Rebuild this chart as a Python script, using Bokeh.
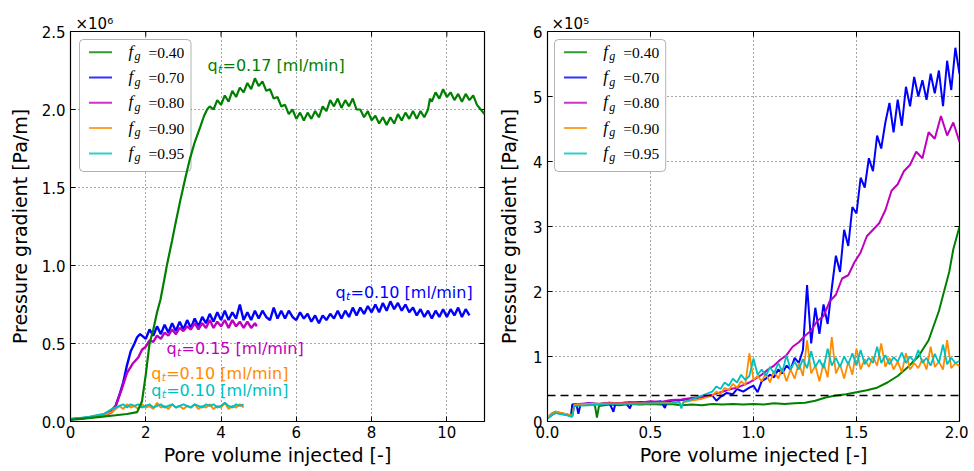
from bokeh.plotting import figure
from bokeh.models import Range1d, FixedTicker, PrintfTickFormatter, BoxAnnotation, Span
from bokeh.layouts import row
from bokeh.embed import file_html
from bokeh.resources import INLINE
from bokeh.core.properties import value

# ---------------- data (left panel, pressure gradient in 1e6 Pa/m) ----------------
left_green_x = [0.0, 0.4, 0.8, 1.2, 1.5, 1.77, 1.9, 2.0, 2.1, 2.2, 2.3, 2.39, 2.5, 2.56, 2.7, 2.79, 2.92,
                3.05, 3.18, 3.3, 3.45, 3.55, 3.63, 3.7, 3.8, 3.9,
                4.0, 4.1, 4.2, 4.3, 4.4, 4.5, 4.6, 4.7, 4.8, 4.9,
                5.0, 5.1, 5.2, 5.3, 5.4, 5.5, 5.6, 5.7, 5.8, 5.9,
                6.0, 6.1, 6.2, 6.3, 6.4, 6.5, 6.6, 6.7, 6.8, 6.9,
                7.0, 7.1, 7.2, 7.3, 7.4, 7.5, 7.6, 7.7, 7.8, 7.9,
                8.0, 8.1, 8.2, 8.3, 8.4, 8.5, 8.6, 8.7, 8.8, 8.9,
                9.0, 9.1, 9.2, 9.3, 9.4, 9.5, 9.55, 9.6, 9.7, 9.8, 9.9,
                10.0, 10.1, 10.2, 10.3, 10.4, 10.5, 10.6, 10.7, 10.8, 10.9, 11.0]
left_green_y = [0.010, 0.020, 0.030, 0.040, 0.048, 0.060, 0.130, 0.300, 0.500, 0.590, 0.700, 0.780, 0.920, 1.000, 1.160, 1.270, 1.420,
                1.560, 1.690, 1.790, 1.890, 1.960, 2.000, 2.020, 2.000, 2.060,
                2.030, 2.090, 2.050, 2.120, 2.080, 2.140, 2.110, 2.170, 2.130, 2.200,
                2.150, 2.180, 2.120, 2.130, 2.070, 2.080, 2.020, 2.030, 1.970, 2.000,
                1.940, 1.980, 1.930, 1.980, 1.940, 1.990, 1.950, 2.020, 1.990, 2.060,
                2.020, 2.070, 2.010, 2.060, 2.020, 2.070, 2.000, 2.000, 1.950, 1.990,
                1.930, 1.960, 1.910, 1.950, 1.900, 1.950, 1.910, 1.970, 1.930, 1.980,
                1.940, 1.990, 1.940, 1.990, 1.950, 2.000, 2.070, 2.050, 2.110, 2.070, 2.130,
                2.080, 2.110, 2.060, 2.100, 2.050, 2.100, 2.060, 2.090, 2.030, 2.000, 1.970]

left_blue_x = [0.0, 0.3, 0.6, 0.9, 1.1, 1.2, 1.3, 1.4, 1.5, 1.6, 1.7, 1.77, 1.85,
               2.0, 2.1, 2.2, 2.3, 2.4, 2.5, 2.6, 2.7, 2.8, 2.9,
               3.0, 3.1, 3.2, 3.3, 3.4, 3.5, 3.6, 3.7, 3.8, 3.9,
               4.0, 4.1, 4.2, 4.3, 4.4, 4.5, 4.6, 4.7, 4.8, 4.9,
               5.0, 5.1, 5.2, 5.3, 5.4, 5.5, 5.6, 5.7, 5.8, 5.9,
               6.0, 6.1, 6.2, 6.3, 6.4, 6.5, 6.6, 6.7, 6.8, 6.9,
               7.0, 7.1, 7.2, 7.3, 7.4, 7.5, 7.6, 7.7, 7.8, 7.9,
               8.0, 8.1, 8.2, 8.3, 8.4, 8.5, 8.6, 8.7, 8.8, 8.9,
               9.0, 9.1, 9.2, 9.3, 9.4, 9.5, 9.6, 9.7, 9.8, 9.9,
               10.0, 10.1, 10.2, 10.3, 10.4, 10.5, 10.6]
left_blue_y = [0.015, 0.020, 0.030, 0.040, 0.060, 0.100, 0.170, 0.250, 0.360, 0.450, 0.500, 0.540, 0.560,
               0.53, 0.59, 0.55, 0.61, 0.56, 0.62, 0.57, 0.63, 0.58, 0.64,
               0.59, 0.65, 0.60, 0.66, 0.61, 0.67, 0.63, 0.69, 0.64, 0.70,
               0.65, 0.71, 0.65, 0.70, 0.66, 0.75, 0.65, 0.70, 0.65, 0.71,
               0.66, 0.71, 0.67, 0.65, 0.73, 0.66, 0.71, 0.66, 0.71, 0.67,
               0.65, 0.70, 0.66, 0.69, 0.64, 0.68, 0.63, 0.68, 0.65, 0.69,
               0.66, 0.71, 0.66, 0.71, 0.67, 0.73, 0.68, 0.73, 0.69, 0.74,
               0.70, 0.75, 0.70, 0.76, 0.71, 0.77, 0.72, 0.76, 0.71, 0.75,
               0.70, 0.73, 0.68, 0.72, 0.67, 0.71, 0.66, 0.71, 0.67, 0.72,
               0.67, 0.72, 0.68, 0.73, 0.67, 0.72, 0.68]

left_magenta_x = [0.0, 0.5, 1.0, 1.2, 1.35, 1.5, 1.65, 1.8, 1.9,
                  2.0, 2.1, 2.2, 2.3, 2.4, 2.5, 2.6, 2.7, 2.8, 2.9,
                  3.0, 3.1, 3.2, 3.3, 3.4, 3.5, 3.6, 3.7, 3.8, 3.9,
                  4.0, 4.1, 4.2, 4.3, 4.4, 4.5, 4.6, 4.7, 4.8, 4.9, 4.95]
left_magenta_y = [0.015, 0.025, 0.050, 0.100, 0.200, 0.310, 0.370, 0.410, 0.460,
                  0.48, 0.52, 0.51, 0.55, 0.53, 0.57, 0.55, 0.59, 0.56, 0.60,
                  0.58, 0.61, 0.59, 0.63, 0.59, 0.63, 0.60, 0.65, 0.60, 0.64,
                  0.61, 0.65, 0.60, 0.65, 0.61, 0.64, 0.60, 0.64, 0.60, 0.63, 0.61]

left_orange_x = [0.0, 0.5, 0.9, 1.1, 1.2,
                 1.3, 1.4, 1.5, 1.6, 1.7, 1.8, 1.9, 2.0, 2.1, 2.2,
                 2.3, 2.4, 2.5, 2.6, 2.7, 2.8, 2.9, 3.0, 3.1, 3.2,
                 3.3, 3.4, 3.5, 3.6, 3.7, 3.8, 3.9, 4.0, 4.1, 4.2,
                 4.3, 4.4, 4.5, 4.6]
left_orange_y = [0.015, 0.025, 0.040, 0.060, 0.080,
                 0.10, 0.08, 0.11, 0.09, 0.10, 0.08, 0.11, 0.09, 0.10, 0.08,
                 0.12, 0.09, 0.10, 0.08, 0.11, 0.09, 0.10, 0.08, 0.10, 0.09,
                 0.11, 0.08, 0.10, 0.09, 0.11, 0.08, 0.10, 0.09, 0.12, 0.08,
                 0.10, 0.09, 0.11, 0.09]

left_cyan_x = [0.0, 0.5, 0.9, 1.1, 1.2,
               1.3, 1.4, 1.5, 1.6, 1.7, 1.8, 1.9, 2.0, 2.1, 2.2,
               2.3, 2.4, 2.5, 2.6, 2.7, 2.8, 2.9, 3.0, 3.1, 3.2,
               3.3, 3.4, 3.5, 3.6, 3.7, 3.8, 3.9, 4.0, 4.1, 4.2,
               4.3, 4.4, 4.5, 4.6]
left_cyan_y = [0.015, 0.030, 0.050, 0.080, 0.090,
               0.10, 0.11, 0.09, 0.11, 0.10, 0.11, 0.09, 0.10, 0.11, 0.09,
               0.10, 0.11, 0.09, 0.10, 0.11, 0.09, 0.10, 0.11, 0.10, 0.09,
               0.11, 0.10, 0.09, 0.11, 0.10, 0.11, 0.09, 0.10, 0.12, 0.10,
               0.09, 0.11, 0.10, 0.11]

# ---------------- data (right panel, pressure gradient in 1e5 Pa/m) ----------------
right_green_x = [0.0, 0.02, 0.04, 0.06, 0.09, 0.115, 0.12, 0.15, 0.20, 0.23,
                 0.24, 0.25, 0.30, 0.35, 0.40, 0.45, 0.50, 0.55, 0.60, 0.65,
                 0.70, 0.75, 0.80, 0.85, 0.90, 0.95, 1.00, 1.05, 1.10, 1.15,
                 1.20, 1.25, 1.30, 1.35, 1.40, 1.45, 1.50, 1.55, 1.60, 1.65,
                 1.70, 1.75, 1.80, 1.85, 1.90, 1.95, 1.97, 2.00]
right_green_y = [0.05, 0.12, 0.15, 0.13, 0.11, 0.09, 0.24, 0.25, 0.26, 0.25,
                 0.06, 0.24, 0.26, 0.25, 0.27, 0.26, 0.27, 0.26, 0.27, 0.25,
                 0.26, 0.25, 0.27, 0.26, 0.27, 0.26, 0.27, 0.26, 0.28, 0.27,
                 0.28, 0.29, 0.32, 0.37, 0.40, 0.42, 0.45, 0.48, 0.52, 0.60,
                 0.70, 0.84, 1.00, 1.25, 1.70, 2.30, 2.65, 3.00]

right_blue_x = [0.0, 0.02, 0.04, 0.07, 0.10, 0.115, 0.12, 0.14, 0.15, 0.16,
                0.20, 0.25, 0.30, 0.32, 0.33, 0.38, 0.40, 0.41, 0.45, 0.50,
                0.55, 0.57, 0.58, 0.65, 0.70, 0.75, 0.80, 0.82, 0.84, 0.87,
                0.90, 0.92, 0.95, 0.98,
                1.00, 1.02, 1.04, 1.06, 1.08, 1.10, 1.12, 1.14, 1.16, 1.18,
                1.20, 1.22, 1.24, 1.26, 1.28, 1.30, 1.32, 1.34, 1.36, 1.38,
                1.40, 1.42, 1.44, 1.46, 1.48, 1.50, 1.52, 1.54, 1.56, 1.58,
                1.60, 1.62, 1.64, 1.66, 1.68, 1.70, 1.72, 1.74, 1.76, 1.78,
                1.80, 1.82, 1.84, 1.86, 1.88, 1.90, 1.92, 1.94, 1.96, 1.98,
                2.00]
right_blue_y = [0.05, 0.10, 0.14, 0.12, 0.10, 0.08, 0.26, 0.27, 0.12, 0.26,
                0.28, 0.27, 0.29, 0.15, 0.28, 0.29, 0.20, 0.29, 0.30, 0.29,
                0.31, 0.21, 0.31, 0.33, 0.35, 0.37, 0.40, 0.32, 0.38, 0.44,
                0.42, 0.50, 0.46, 0.52,
                0.55, 0.45, 0.62, 0.66, 0.72, 0.68, 0.80, 0.74, 0.86, 0.80,
                0.98, 0.90, 1.10, 2.10, 1.20, 1.75, 1.35, 1.80, 1.50, 2.05,
                2.55, 2.30, 2.95, 2.70, 3.30, 3.20, 3.75, 3.60, 4.05, 3.85,
                4.40, 4.20, 4.60, 4.90, 4.45, 4.95, 4.55, 5.15, 4.85, 5.30,
                5.00, 5.25, 4.95, 5.35, 5.05, 5.40, 4.85, 5.55, 5.10, 5.75,
                5.35]

right_magenta_x = [0.0, 0.02, 0.04, 0.07, 0.10, 0.12, 0.13, 0.15, 0.20, 0.25,
                   0.30, 0.35, 0.40, 0.45, 0.50, 0.55, 0.60, 0.65, 0.70, 0.75,
                   0.80, 0.83, 0.86, 0.89, 0.92, 0.95, 0.98, 1.01, 1.04, 1.07,
                   1.10, 1.13, 1.16, 1.19, 1.22, 1.25, 1.28, 1.31, 1.34, 1.37,
                   1.40, 1.43, 1.46, 1.49, 1.52, 1.55, 1.58, 1.61, 1.64, 1.67,
                   1.70, 1.73, 1.76, 1.79, 1.82, 1.85, 1.88, 1.91, 1.94, 1.97,
                   2.00]
right_magenta_y = [0.05, 0.10, 0.14, 0.12, 0.10, 0.08, 0.25, 0.27, 0.28, 0.27,
                   0.29, 0.28, 0.30, 0.29, 0.31, 0.30, 0.33, 0.34, 0.36, 0.38,
                   0.41, 0.44, 0.47, 0.50, 0.52, 0.56, 0.60, 0.66, 0.72, 0.80,
                   0.86, 0.95, 1.02, 1.15, 1.22, 1.32, 1.40, 1.55, 1.62, 1.85,
                   1.95, 2.20, 2.25, 2.45, 2.60, 2.85, 2.95, 3.05, 3.25, 3.55,
                   3.65, 3.85, 3.95, 4.15, 4.05, 4.45, 4.35, 4.70, 4.40, 4.60,
                   4.30]

right_orange_x = [0.0, 0.02, 0.04, 0.07, 0.10, 0.12, 0.13, 0.20, 0.30, 0.40,
                  0.50, 0.60, 0.64, 0.65, 0.66, 0.70, 0.75,
                  0.80, 0.82, 0.84, 0.86, 0.88, 0.90, 0.92, 0.94, 0.96, 0.98,
                  1.00, 1.02, 1.04, 1.06, 1.08, 1.10, 1.12, 1.14, 1.16, 1.18,
                  1.20, 1.22, 1.24, 1.26, 1.28, 1.30, 1.32, 1.34, 1.36, 1.38,
                  1.40, 1.42, 1.44, 1.46, 1.48, 1.50, 1.52, 1.54, 1.56, 1.58,
                  1.60, 1.62, 1.64, 1.66, 1.68, 1.70, 1.72, 1.74, 1.76, 1.78,
                  1.80, 1.82, 1.84, 1.86, 1.88, 1.90, 1.92, 1.94, 1.96, 1.98,
                  2.00]
right_orange_y = [0.05, 0.12, 0.15, 0.13, 0.11, 0.09, 0.26, 0.27, 0.28, 0.28,
                  0.28, 0.29, 0.30, 0.24, 0.30, 0.32, 0.35,
                  0.40, 0.46, 0.42, 0.52, 0.48, 0.58, 0.52, 0.62, 0.56, 1.05,
                  0.64, 0.70, 0.62, 0.74, 0.60, 0.78, 0.66, 0.82, 0.62, 0.80,
                  0.66, 0.90, 0.70, 1.25, 0.74, 0.86, 0.62, 0.90, 0.68, 1.30,
                  0.74, 0.88, 0.66, 0.92, 0.72, 1.12, 0.80, 0.96, 0.84, 1.00,
                  0.86, 1.20, 0.84, 0.98, 0.80, 0.92, 0.76, 1.05, 0.80, 0.90,
                  0.82, 0.96, 0.80, 1.15, 0.84, 0.92, 0.80, 1.25, 0.82, 0.90,
                  0.85]

right_cyan_x = [0.0, 0.02, 0.04, 0.07, 0.10, 0.12, 0.13, 0.20, 0.30, 0.40,
                0.50, 0.60, 0.64, 0.65, 0.66, 0.70, 0.75,
                0.80, 0.82, 0.84, 0.86, 0.88, 0.90, 0.92, 0.94, 0.96, 0.98,
                1.00, 1.02, 1.04, 1.06, 1.08, 1.10, 1.12, 1.14, 1.16, 1.18,
                1.20, 1.22, 1.24, 1.26, 1.28, 1.30, 1.32, 1.34, 1.36, 1.38,
                1.40, 1.42, 1.44, 1.46, 1.48, 1.50, 1.52, 1.54, 1.56, 1.58,
                1.60, 1.62, 1.64, 1.66, 1.68, 1.70, 1.72, 1.74, 1.76, 1.78,
                1.80, 1.82, 1.84, 1.86, 1.88, 1.90, 1.92, 1.94, 1.96, 1.98,
                2.00]
right_cyan_y = [0.04, 0.10, 0.13, 0.11, 0.09, 0.07, 0.24, 0.25, 0.27, 0.27,
                0.28, 0.28, 0.30, 0.20, 0.30, 0.34, 0.40,
                0.46, 0.54, 0.50, 0.60, 0.55, 0.66, 0.60, 0.72, 0.64, 0.70,
                0.97, 0.72, 0.80, 0.70, 0.84, 0.74, 0.90, 0.76, 1.02, 0.80,
                0.92, 0.80, 0.96, 0.82, 1.08, 0.84, 0.95, 0.82, 1.12, 0.86,
                0.98, 0.84, 1.00, 0.88, 1.05, 0.86, 1.10, 0.88, 0.98, 0.90,
                1.15, 0.90, 1.02, 0.88, 0.99, 0.92, 1.06, 0.90, 1.00, 0.92,
                1.10, 0.90, 0.98, 0.86, 1.04, 0.90, 1.18, 0.88, 0.98, 0.90,
                0.93]

threshold_right = 0.4  # dashed reference level (1e5 Pa/m)

legend_values = ["0.40", "0.70", "0.80", "0.90", "0.95"]
left_rates = ["0.17", "0.10", "0.15", "0.10", "0.10"]  # green, blue, magenta, orange, cyan

left_xticks = [0, 2, 4, 6, 8, 10]
left_yticks = [0.0, 0.5, 1.0, 1.5, 2.0, 2.5]
right_xticks = [0.0, 0.5, 1.0, 1.5, 2.0]
right_yticks = [0, 1, 2, 3, 4, 5, 6]

# ---------------- styling ----------------
GREEN, BLUE, MAGENTA, ORANGE, CYAN = "#008000", "#0000ff", "#bf00bf", "#ff8c00", "#00bfbf"
COLORS = [GREEN, BLUE, MAGENTA, ORANGE, CYAN]
FONT = "DejaVu Sans"
SERIF = "Liberation Serif"
H = 470
TOP = 31
BOTTOM = 49
FRAME_TOP_PX = 31
FRAME_H = 390


class Frame:
    def __init__(self, left, top, w, h, xr, yr):
        self.left, self.top, self.w, self.h, self.xr, self.yr = left, top, w, h, xr, yr

    def d(self, px, py):
        x = self.xr[0] + (px - self.left) / self.w * (self.xr[1] - self.xr[0])
        y = self.yr[1] - (py - self.top) / self.h * (self.yr[1] - self.yr[0])
        return x, y

    def dx(self, npx):
        return npx / self.w * (self.xr[1] - self.xr[0])

    def dy(self, npx):
        return npx / self.h * (self.yr[1] - self.yr[0])


def style_axis(ax, ticks, fmt, label, tick_standoff, label_standoff):
    ax.ticker = FixedTicker(ticks=ticks)
    ax.formatter = PrintfTickFormatter(format=fmt)
    ax.major_tick_in = 5
    ax.major_tick_out = 0
    ax.minor_tick_in = 0
    ax.minor_tick_out = 0
    ax.major_tick_line_color = "black"
    ax.axis_line_color = None
    ax.major_label_text_font = FONT
    ax.major_label_text_font_size = "15px"
    ax.major_label_text_color = "black"
    ax.major_label_standoff = tick_standoff
    ax.axis_label = label
    ax.axis_label_text_font = FONT
    ax.axis_label_text_font_size = "19px"
    ax.axis_label_text_font_style = "normal"
    ax.axis_label_text_color = "black"
    ax.axis_label_standoff = label_standoff


def make_fig(width, bl, br, fr, xticks, yticks, xfmt, yfmt, y_label_standoff, mult, title_offset):
    p = figure(width=width, height=H, x_range=Range1d(*fr.xr), y_range=Range1d(*fr.yr),
               output_backend="svg", toolbar_location=None,
               min_border_left=bl, min_border_right=br, min_border_top=TOP, min_border_bottom=BOTTOM)
    p.background_fill_color = "white"
    p.border_fill_color = "white"
    p.outline_line_color = "black"
    p.outline_line_width = 1.2
    p.outline_line_alpha = 1.0
    style_axis(p.xaxis[0], xticks, xfmt, "Pore volume injected [-]", 4, 3)
    style_axis(p.yaxis[0], yticks, yfmt, "Pressure gradient [Pa/m]", 5, y_label_standoff)
    p.xgrid.ticker = FixedTicker(ticks=xticks)
    p.ygrid.ticker = FixedTicker(ticks=yticks)
    for g in (p.xgrid, p.ygrid):
        g.grid_line_color = "black"
        g.grid_line_dash = "1 3"
        g.grid_line_alpha = 0.7
        g.grid_line_width = 1
    # inward tick marks on the top and right frame edges
    ytop = fr.yr[1]
    xright = fr.xr[1]
    p.segment(x0=xticks, y0=[ytop] * len(xticks), x1=xticks, y1=[ytop - fr.dy(5)] * len(xticks),
              line_color="black", line_width=1)
    p.segment(x0=[xright] * len(yticks), y0=yticks, x1=[xright - fr.dx(5)] * len(yticks), y1=yticks,
              line_color="black", line_width=1)
    # axis multiplier "x10^n" above the top-left corner
    p.title.text = mult
    p.title.align = "left"
    p.title.offset = title_offset
    p.title.standoff = -3
    p.title.text_font = FONT
    p.title.text_font_size = "15px"
    p.title.text_font_style = "normal"
    p.title.text_color = "black"
    return p


def draw_legend(p, fr, box_left_px):
    bx0, by0 = fr.d(box_left_px, 39)
    bx1, by1 = fr.d(box_left_px + 111.5, 171)
    kw = dict(left=bx0, right=bx1, top=by0, bottom=by1, fill_color="white", fill_alpha=1.0,
              line_color="black", line_width=1, level="underlay")
    try:
        box = BoxAnnotation(border_radius=4, **kw)
    except Exception:
        box = BoxAnnotation(**kw)
    p.add_layout(box)
    fx, gx, ex = [], [], []
    f_y, g_y, e_y = [], [], []
    for i, c in enumerate(COLORS):
        row_py = 51.7 + 25.3 * i
        xa, ya = fr.d(box_left_px + 9.5, row_py)
        xb, _ = fr.d(box_left_px + 32.5, row_py)
        p.line([xa, xb], [ya, ya], line_color=c, line_width=2, line_alpha=0.8)
        x_f, y_f = fr.d(box_left_px + 49, row_py - 1)
        x_g, y_g = fr.d(box_left_px + 55, row_py + 4)
        x_e, y_e = fr.d(box_left_px + 69, row_py)
        fx.append(x_f); f_y.append(y_f)
        gx.append(x_g); g_y.append(y_g)
        ex.append(x_e); e_y.append(y_e)
    p.text(x=fx, y=f_y, text=["f"] * 5, text_font=value(SERIF), text_font_style="italic",
           text_font_size="17px", text_baseline="middle", text_align="left", text_color="black")
    p.text(x=gx, y=g_y, text=["g"] * 5, text_font=value(SERIF), text_font_style="italic",
           text_font_size="12px", text_baseline="middle", text_align="left", text_color="black")
    p.text(x=ex, y=e_y, text=["=" + v for v in legend_values], text_font=value(SERIF),
           text_font_size="15.5px", text_baseline="middle", text_align="left", text_color="black")


def draw_rate(p, fr, px, py, rate, color):
    xq, yq = fr.d(px, py)
    xt, yt = fr.d(px + 10.5, py + 4)
    xr_, yr_ = fr.d(px + 15, py)
    p.text(x=[xq], y=[yq], text=["q"], text_font=value(FONT), text_font_size="16px",
           text_baseline="middle", text_color=color)
    p.text(x=[xt], y=[yt], text=["t"], text_font=value(FONT), text_font_style="italic",
           text_font_size="11px", text_baseline="middle", text_color=color)
    p.text(x=[xr_], y=[yr_], text=["=" + rate + " [ml/min]"], text_font=value(FONT),
           text_font_size="16px", text_baseline="middle", text_color=color)


# ---------------- left panel ----------------
LEFT_W, LEFT_BL, LEFT_BR = 494, 70, 10
left_fr = Frame(70, FRAME_TOP_PX, 414, FRAME_H, (0, 11), (0, 2.5))
p1 = make_fig(LEFT_W, LEFT_BL, LEFT_BR, left_fr, left_xticks, left_yticks, "%d", "%.1f", 8,
              "\u00d710\u2076", 5)

p1.line(left_blue_x, left_blue_y, line_color=BLUE, line_width=2.4)
p1.line(left_magenta_x, left_magenta_y, line_color=MAGENTA, line_width=2.4)
p1.line(left_orange_x, left_orange_y, line_color=ORANGE, line_width=2)
p1.line(left_cyan_x, left_cyan_y, line_color=CYAN, line_width=2)
p1.line(left_green_x, left_green_y, line_color=GREEN, line_width=2.2)

draw_legend(p1, left_fr, 79)
draw_rate(p1, left_fr, 207, 65, left_rates[0], GREEN)
draw_rate(p1, left_fr, 335, 291.7, left_rates[1], BLUE)
draw_rate(p1, left_fr, 166, 347.5, left_rates[2], MAGENTA)
draw_rate(p1, left_fr, 150.7, 372.5, left_rates[3], ORANGE)
draw_rate(p1, left_fr, 150.7, 390, left_rates[4], CYAN)

# ---------------- right panel ----------------
RIGHT_W, RIGHT_BL, RIGHT_BR = 474, 52, 9
right_fr = Frame(546, FRAME_TOP_PX, 413, FRAME_H, (0, 2), (0, 6))
p2 = make_fig(RIGHT_W, RIGHT_BL, RIGHT_BR, right_fr, right_xticks, right_yticks, "%.1f", "%d", 10,
              "\u00d710\u2075", 4)

p2.line(right_green_x, right_green_y, line_color=GREEN, line_width=2)
p2.line(right_blue_x, right_blue_y, line_color=BLUE, line_width=2)
p2.line(right_magenta_x, right_magenta_y, line_color=MAGENTA, line_width=2)
p2.line(right_orange_x, right_orange_y, line_color=ORANGE, line_width=1.8)
p2.line(right_cyan_x, right_cyan_y, line_color=CYAN, line_width=1.8)
p2.add_layout(Span(location=threshold_right, dimension="width", line_color="black",
                   line_dash="8 5", line_width=1.5))

draw_legend(p2, right_fr, 553)

layout = row(p1, p2)
open("out.html", "w").write(file_html(layout, INLINE))
